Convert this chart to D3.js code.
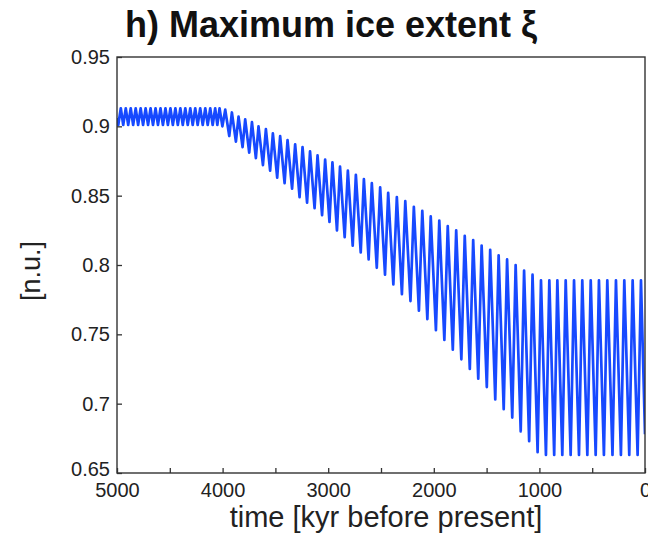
<!DOCTYPE html>
<html>
<head>
<meta charset="utf-8">
<script src="https://cdn.jsdelivr.net/npm/d3@7"></script>
<style>
body { margin: 0; background: #fff; }
svg { display: block; font-family: 'Liberation Sans', Arial, sans-serif; }
</style>
</head>
<body>
<svg id="chart" width="648" height="540"></svg>
<script>
'use strict'

// turning points of the curve (kyr before present, n.u.)
const peakTimes = [4964, 4917, 4870, 4823, 4776, 4729, 4682, 4635, 4588, 4541, 4494, 4447, 4400, 4353, 4306, 4259, 4212, 4164, 4117, 4070, 4029,
    3975, 3912, 3849, 3786, 3722, 3660, 3590, 3524, 3455, 3385, 3313, 3243, 3172, 3101, 3029, 2960, 2888, 2814, 2738, 2662, 2587, 2508, 2432, 2350,
    2270, 2189, 2109, 2029, 1948, 1868, 1788, 1707, 1627, 1547, 1466, 1386, 1306, 1225, 1145, 1065, 985,
    906, 830, 751, 672, 594, 514, 436, 357, 275, 196, 117, 38]
const peakValues = [0.913, 0.913, 0.913, 0.913, 0.913, 0.913, 0.913, 0.913, 0.913, 0.913, 0.913, 0.913, 0.913, 0.913, 0.913, 0.913, 0.913, 0.913, 0.913, 0.913, 0.913,
    0.912, 0.910, 0.907, 0.905, 0.903, 0.900, 0.898, 0.895, 0.893, 0.890, 0.887, 0.885, 0.882, 0.879, 0.876, 0.874, 0.871, 0.868, 0.865, 0.862, 0.859, 0.856, 0.852, 0.849,
    0.846, 0.842, 0.839, 0.835, 0.832, 0.828, 0.825, 0.821, 0.818, 0.814, 0.811, 0.807, 0.804, 0.800, 0.796, 0.793, 0.789,
    0.789, 0.789, 0.789, 0.789, 0.789, 0.789, 0.789, 0.789, 0.789, 0.789, 0.789, 0.789]

const troughTimes = [4988, 4941, 4894, 4847, 4800, 4753, 4706, 4659, 4612, 4565, 4518, 4471, 4424, 4377, 4330, 4283, 4236, 4188, 4141, 4094, 4050,
    4002, 3937, 3874, 3811, 3748, 3685, 3618, 3550, 3483, 3413, 3342, 3271, 3200, 3129, 3058, 2988, 2917, 2844, 2768, 2692, 2617, 2540, 2462, 2383,
    2302, 2221, 2141, 2061, 1980, 1900, 1820, 1739, 1659, 1579, 1498, 1418, 1338, 1257, 1177, 1097, 1017,
    938, 860, 783, 704, 625, 546, 467, 389, 308, 228, 149, 70]
const troughValues = [0.901, 0.901, 0.901, 0.901, 0.901, 0.901, 0.901, 0.901, 0.901, 0.901, 0.901, 0.901, 0.901, 0.901, 0.901, 0.901, 0.901, 0.901, 0.901, 0.901, 0.901,
    0.900, 0.893, 0.889, 0.885, 0.881, 0.877, 0.872, 0.868, 0.863, 0.859, 0.855, 0.849, 0.845, 0.841, 0.836, 0.831, 0.825, 0.820, 0.814, 0.809, 0.804, 0.798, 0.793, 0.786,
    0.779, 0.774, 0.767, 0.761, 0.753, 0.746, 0.739, 0.732, 0.725, 0.718, 0.712, 0.703, 0.696, 0.690, 0.680, 0.673, 0.665,
    0.663, 0.663, 0.663, 0.663, 0.663, 0.663, 0.663, 0.663, 0.663, 0.663, 0.663, 0.663]

// values where the record starts and stops
const endTimes = [5000, 0]
const endValues = [0.906, 0.678]

const xTickValues = [5000, 4500, 4000, 3500, 3000, 2500, 2000, 1500, 1000, 500, 0]
const xTickLabels = ['5000', '', '4000', '', '3000', '', '2000', '', '1000', '', '0']
const yTickValues = [0.65, 0.7, 0.75, 0.8, 0.85, 0.9, 0.95]
const yTickLabels = ['0.65', '0.7', '0.75', '0.8', '0.85', '0.9', '0.95']

let svg = d3.select('#chart')

let margin = { top: 57, right: 3, bottom: 67, left: 117 }
let width = 648 - margin.left - margin.right
let height = 540 - margin.top - margin.bottom

let g = svg.append('g').attr('transform', `translate(${margin.left}, ${margin.top})`)

let x = d3.scaleLinear().domain([5000, 0]).range([0, width])
let y = d3.scaleLinear().domain([0.65, 0.95]).range([height, 0])

let points = []
peakTimes.forEach((t, i) => points.push({ t: t, v: peakValues[i] }))
troughTimes.forEach((t, i) => points.push({ t: t, v: troughValues[i] }))
endTimes.forEach((t, i) => points.push({ t: t, v: endValues[i] }))
points.sort((a, b) => b.t - a.t)

g.append('clipPath').attr('id', 'plot-clip')
    .append('rect').attr('width', width).attr('height', height)

g.append('path')
    .datum(points)
    .attr('clip-path', 'url(#plot-clip)')
    .attr('fill', 'none')
    .attr('stroke', '#1749ff')
    .attr('stroke-width', 2.7)
    .attr('stroke-linejoin', 'round')
    .attr('d', d3.line().x(d => x(d.t)).y(d => y(d.v)))

let xAxis = g.append('g')
    .attr('transform', `translate(0, ${height})`)
    .call(d3.axisBottom(x).tickValues(xTickValues).tickSizeInner(-5).tickSizeOuter(0).tickPadding(10)
        .tickFormat((d, i) => xTickLabels[i]))

let yAxis = g.append('g')
    .call(d3.axisLeft(y).tickValues(yTickValues).tickSizeInner(-5).tickSizeOuter(0).tickPadding(7)
        .tickFormat((d, i) => yTickLabels[i]))

for (let axis of [xAxis, yAxis]) {
    axis.select('.domain').remove()
    axis.selectAll('line').attr('stroke', '#333').attr('stroke-width', 1.3)
    axis.selectAll('text').attr('font-size', '20px').attr('fill', '#222')
        .attr('font-family', "'Liberation Sans', Arial, sans-serif")
}

// the lowest y label sits a little above its tick, as in the reference
yAxis.selectAll('.tick text').filter(d => d === 0.65).attr('dy', '0.1em')

g.append('rect')
    .attr('width', width)
    .attr('height', height)
    .attr('fill', 'none')
    .attr('stroke', '#333')
    .attr('stroke-width', 1.4)

svg.append('text')
    .attr('x', 386)
    .attr('y', 527)
    .attr('text-anchor', 'middle')
    .attr('font-size', '29px')
    .attr('fill', '#222')
    .text('time [kyr before present]')

svg.append('text')
    .attr('transform', `translate(40, ${margin.top + height / 2 + 6}) rotate(-90)`)
    .attr('text-anchor', 'middle')
    .attr('font-size', '27px')
    .attr('fill', '#222')
    .text('[n.u.]')

svg.append('text')
    .attr('x', 331)
    .attr('y', 37)
    .attr('text-anchor', 'middle')
    .attr('font-size', '36px')
    .attr('font-weight', 'bold')
    .attr('fill', '#111')
    .text('h) Maximum ice extent ξ')
</script>
</body>
</html>
